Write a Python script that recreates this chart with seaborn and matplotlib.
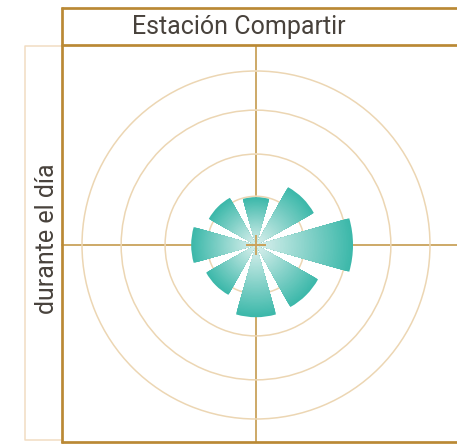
import numpy as np
import matplotlib
matplotlib.use("Agg")
import matplotlib.pyplot as plt
import seaborn as sns
from matplotlib.lines import Line2D

# wind-rose style data: 8 directions, radial length of each wedge
directions = ["N", "NE", "E", "SE", "S", "SW", "W", "NW"]
angles_deg = [0, 45, 90, 135, 180, 225, 270, 315]
values = [1.10, 1.52, 2.23, 1.63, 1.66, 1.31, 1.49, 1.24]
ring_values = [1.12, 2.09, 3.10]
r_max = 4.0

title = "Estación Compartir"
side_label = "durante el día"

teal = "#3cb8aa"
light = "#dcf1ee"
ring_col = "#ecd6b3"
cross_col = "#c9a25c"
frame_col = "#ba8934"
side_col = "#f1ddc2"
text_col = "#48423c"

sns.set_theme(style="white")
plt.rcParams["font.family"] = ["Roboto", "DejaVu Sans"]

W, H = 457, 444
fig = plt.figure(figsize=(W / 100, H / 100), dpi=100)

def fx(x):
    return x / W

def fy(y):
    return 1 - y / H

# polar axes, centre (256, 245), radius 174 px
ax = fig.add_axes([fx(82), fy(419), 348 / W, 348 / H], projection="polar")
ax.set_facecolor("none")
ax.set_theta_zero_location("N")
ax.set_theta_direction(-1)
ax.set_ylim(0, r_max)
ax.set_yticks(ring_values)
ax.set_yticklabels([])
ax.set_xticks([])
ax.yaxis.grid(True, color=ring_col, linewidth=1.1)
ax.xaxis.grid(False)
ax.spines["polar"].set_color(ring_col)
ax.spines["polar"].set_linewidth(1.1)

# gradient wedges: nested bars, light at the centre, teal at the tip
theta = np.deg2rad(angles_deg)
vals = np.array(values)
n_steps = 60
pal = sns.blend_palette([light, teal], n_colors=n_steps)
width = np.deg2rad(32)
for k in range(n_steps):
    frac = 1 - k / n_steps
    ax.bar(theta, vals * frac, width=width, bottom=0,
           color=pal[n_steps - 1 - k], linewidth=0, zorder=3)

# small cross on top at the centre
ax.plot([0], [0], marker="+", ms=14, mew=1.3, color=cross_col, zorder=5)

# crosshair behind the wedges
fig.add_artist(Line2D([fx(256), fx(256)], [fy(46), fy(442)], color=cross_col,
                      lw=1.3, zorder=-1))
fig.add_artist(Line2D([fx(62), fx(460)], [fy(245), fy(245)], color=cross_col,
                      lw=1.3, zorder=-1))

# thin box for the side label
fig.add_artist(Line2D([fx(61), fx(24.5), fx(24.5), fx(61)],
                      [fy(46), fy(46), fy(440), fy(440)],
                      color=side_col, lw=1.1, zorder=1))

# golden frame
lw_f = 1.95
for y in [8, 44.7, 442]:
    fig.add_artist(Line2D([fx(60.7), fx(460)], [fy(y), fy(y)], color=frame_col,
                          lw=lw_f, zorder=2, solid_capstyle="butt"))
fig.add_artist(Line2D([fx(61.7), fx(61.7)], [fy(7), fy(443.3)], color=frame_col,
                      lw=lw_f, zorder=2, solid_capstyle="butt"))

fig.text(fx(238.5), fy(34), title, ha="center", va="baseline", fontsize=18,
         color=text_col)
fig.text(fx(53.5), fy(238.5), side_label, ha="center", va="baseline", fontsize=18,
         color=text_col, rotation=90, rotation_mode="anchor")

fig.savefig("out.png", dpi=100)
